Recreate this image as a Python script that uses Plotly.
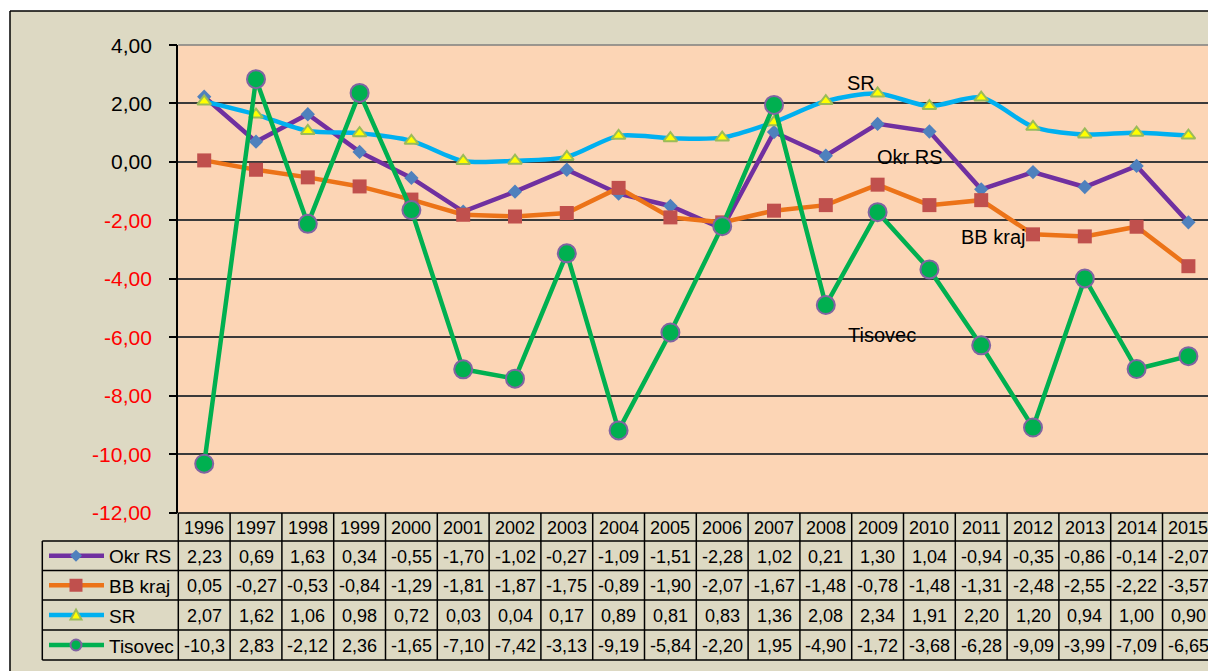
import plotly.graph_objects as go

# ---------------- data ----------------
years = [1996, 1997, 1998, 1999, 2000, 2001, 2002, 2003, 2004, 2005,
         2006, 2007, 2008, 2009, 2010, 2011, 2012, 2013, 2014, 2015]
okr_rs = [2.23, 0.69, 1.63, 0.34, -0.55, -1.70, -1.02, -0.27, -1.09, -1.51,
          -2.28, 1.02, 0.21, 1.30, 1.04, -0.94, -0.35, -0.86, -0.14, -2.07]
bb_kraj = [0.05, -0.27, -0.53, -0.84, -1.29, -1.81, -1.87, -1.75, -0.89, -1.90,
           -2.07, -1.67, -1.48, -0.78, -1.48, -1.31, -2.48, -2.55, -2.22, -3.57]
sr = [2.07, 1.62, 1.06, 0.98, 0.72, 0.03, 0.04, 0.17, 0.89, 0.81,
      0.83, 1.36, 2.08, 2.34, 1.91, 2.20, 1.20, 0.94, 1.00, 0.90]
tisovec = [-10.33, 2.83, -2.12, 2.36, -1.65, -7.10, -7.42, -3.13, -9.19, -5.84,
           -2.20, 1.95, -4.90, -1.72, -3.68, -6.28, -9.09, -3.99, -7.09, -6.65]
series_names = ["Okr RS", "BB kraj", "SR", "Tisovec"]
y_ticks = [4, 2, 0, -2, -4, -6, -8, -10, -12]

# ---------------- layout constants ----------------
W, H = 1208, 671
FONT = "Liberation Sans, Arial, sans-serif"
BEIGE = "#DDD9C3"
PEACH = "#FCD5B5"

def px(x):
    return x / W

def py(y):
    return 1 - y / H

ax_left = 178.3
col_w = 51.8
plot_top, plot_bot = 45.0, 512.5

styles = {
    "Okr RS": dict(line="#7030A0", shape="linear", symbol="diamond", size=11,
                   mfill="#4F81BD", mline="#4F81BD", mlw=0),
    "BB kraj": dict(line="#EC7318", shape="linear", symbol="square", size=14,
                    mfill="#C0504D", mline="#C0504D", mlw=0),
    "SR": dict(line="#00B0F0", shape="spline", symbol="triangle-up", size=12,
               mfill="#FFFF00", mline="#9BBB59", mlw=2),
    "Tisovec": dict(line="#00B050", shape="linear", symbol="circle", size=18,
                    mfill="#00B050", mline="#8064A2", mlw=2),
}
values = {"Okr RS": okr_rs, "BB kraj": bb_kraj, "SR": sr, "Tisovec": tisovec}

xi = list(range(len(years)))

fig = go.Figure()
for name in series_names:
    s = styles[name]
    line = dict(color=s["line"], width=4.5, shape=s["shape"])
    if s["shape"] == "spline":
        line["smoothing"] = 0.8
    fig.add_trace(go.Scatter(
        x=xi, y=values[name], mode="lines+markers", name=name,
        line=line,
        marker=dict(symbol=s["symbol"], size=s["size"], color=s["mfill"],
                    line=dict(color=s["mline"], width=s["mlw"])),
        cliponaxis=False, showlegend=False,
    ))

shapes = []
annotations = []

# white margins outside the chart frame
shapes.append(dict(type="rect", xref="paper", yref="paper", x0=0, x1=1, y0=py(11), y1=1,
                   fillcolor="white", line=dict(width=0), layer="below"))
shapes.append(dict(type="rect", xref="paper", yref="paper", x0=0, x1=px(10), y0=0, y1=1,
                   fillcolor="white", line=dict(width=0), layer="below"))
# frame border
shapes.append(dict(type="line", xref="paper", yref="paper", x0=px(10), x1=1.01, y0=py(11), y1=py(11),
                   line=dict(color="black", width=1.5)))
shapes.append(dict(type="line", xref="paper", yref="paper", x0=px(10), x1=px(10), y0=py(11), y1=-0.01,
                   line=dict(color="black", width=1.5)))
# top edge of plot area
shapes.append(dict(type="line", xref="paper", yref="paper", x0=px(ax_left), x1=1.01,
                   y0=py(plot_top), y1=py(plot_top), line=dict(color="#7F7F7F", width=1.5)))

# y tick labels
for v in y_ticks:
    txt = f"{v:.2f}".replace(".", ",")
    annotations.append(dict(xref="paper", yref="y", x=px(154), y=v, text=txt,
                            showarrow=False, xanchor="right", yanchor="middle",
                            font=dict(family=FONT, size=21, color="red" if v < 0 else "black")))

# series labels inside the plot
label_pos = {"SR": (12.68, 2.70), "Okr RS": (13.63, 0.17),
             "BB kraj": (15.23, -2.57), "Tisovec": (13.08, -5.92)}
for name, (lx, ly) in label_pos.items():
    annotations.append(dict(xref="x", yref="y", x=lx, y=ly, text=name, showarrow=False,
                            xanchor="center", yanchor="middle",
                            font=dict(family=FONT, size=20, color="black")))

# ---------------- data table ----------------
t_head_top = 513.0
row_edges = [541.0, 570.5, 600.0, 630.0, 660.0]
leg_left = 42.3
grid = dict(color="black", width=1.5)

shapes.append(dict(type="line", xref="paper", yref="paper", x0=px(ax_left), x1=1.01,
                   y0=py(t_head_top), y1=py(t_head_top), line=grid))
for ye in row_edges:
    shapes.append(dict(type="line", xref="paper", yref="paper", x0=px(leg_left), x1=1.01,
                       y0=py(ye), y1=py(ye), line=grid))
shapes.append(dict(type="line", xref="paper", yref="paper", x0=px(leg_left), x1=px(leg_left),
                   y0=py(row_edges[0]), y1=py(row_edges[-1]), line=grid))
shapes.append(dict(type="line", xref="paper", yref="paper", x0=px(ax_left), x1=px(ax_left),
                   y0=py(t_head_top), y1=py(row_edges[-1]), line=grid))
for k in range(1, len(years)):
    shapes.append(dict(type="line", xref="x", yref="paper", x0=k - 0.5, x1=k - 0.5,
                       y0=py(t_head_top), y1=py(row_edges[-1]), line=grid))

tfont = dict(family=FONT, size=18, color="black")
head_c = (t_head_top + row_edges[0]) / 2 + 1
for i, yr in enumerate(years):
    annotations.append(dict(xref="x", yref="paper", x=i, y=py(head_c), text=str(yr),
                            showarrow=False, xanchor="center", yanchor="middle", font=tfont))

def fmt(v):
    return f"{v:.2f}".replace(".", ",")[:5]

for r, name in enumerate(series_names):
    rc = (row_edges[r] + row_edges[r + 1]) / 2 + 1
    for i, v in enumerate(values[name]):
        annotations.append(dict(xref="x", yref="paper", x=i, y=py(rc), text=fmt(v),
                                showarrow=False, xanchor="center", yanchor="middle", font=tfont))
    # legend key
    s = styles[name]
    shapes.append(dict(type="line", xref="paper", yref="paper", x0=px(49), x1=px(104),
                       y0=py(rc - 1), y1=py(rc - 1), line=dict(color=s["line"], width=4.5)))
    cx, cy = 76.0, rc - 1
    if s["symbol"] == "diamond":
        r_ = 6
        path = (f"M {px(cx)},{py(cy - r_)} L {px(cx + r_)},{py(cy)} "
                f"L {px(cx)},{py(cy + r_)} L {px(cx - r_)},{py(cy)} Z")
        shapes.append(dict(type="path", xref="paper", yref="paper", path=path,
                           fillcolor=s["mfill"], line=dict(width=0)))
    elif s["symbol"] == "square":
        r_ = 6.5
        shapes.append(dict(type="rect", xref="paper", yref="paper", x0=px(cx - r_), x1=px(cx + r_),
                           y0=py(cy + r_), y1=py(cy - r_), fillcolor=s["mfill"], line=dict(width=0)))
    elif s["symbol"] == "triangle-up":
        r_ = 5.5
        path = (f"M {px(cx)},{py(cy - r_)} L {px(cx + r_)},{py(cy + r_ * 0.8)} "
                f"L {px(cx - r_)},{py(cy + r_ * 0.8)} Z")
        shapes.append(dict(type="path", xref="paper", yref="paper", path=path,
                           fillcolor=s["mfill"], line=dict(color=s["mline"], width=2)))
    else:
        r_ = 5.5
        shapes.append(dict(type="circle", xref="paper", yref="paper", x0=px(cx - r_), x1=px(cx + r_),
                           y0=py(cy + r_), y1=py(cy - r_), fillcolor=s["mfill"],
                           line=dict(color=s["mline"], width=2)))
    annotations.append(dict(xref="paper", yref="paper", x=px(107), y=py(rc), text=name,
                            showarrow=False, xanchor="left", yanchor="middle",
                            font=dict(family=FONT, size=19, color="black")))

fig.update_layout(
    width=W, height=H,
    margin=dict(l=0, r=0, t=0, b=0),
    paper_bgcolor=BEIGE,
    plot_bgcolor=PEACH,
    showlegend=False,
    xaxis=dict(domain=[px(ax_left), 1], range=[-0.5, -0.5 + (W - ax_left) / col_w],
               showgrid=False, zeroline=False, showticklabels=False, showline=False,
               ticks="", fixedrange=True, automargin=False),
    yaxis=dict(domain=[py(plot_bot), py(plot_top)], range=[-12, 4], tickvals=y_ticks,
               showgrid=True, gridcolor="#3A3A3A", gridwidth=1.5, zeroline=False,
               showticklabels=False, showline=True, linecolor="black", linewidth=1.5,
               ticks="outside", ticklen=8, tickwidth=1.5, tickcolor="black",
               fixedrange=True, automargin=False),
    shapes=shapes,
    annotations=annotations,
)

fig.write_html(
    "out.html",
    config={"displayModeBar": False},
    post_script="document.body.style.margin='0';document.body.style.overflow='hidden';",
)
